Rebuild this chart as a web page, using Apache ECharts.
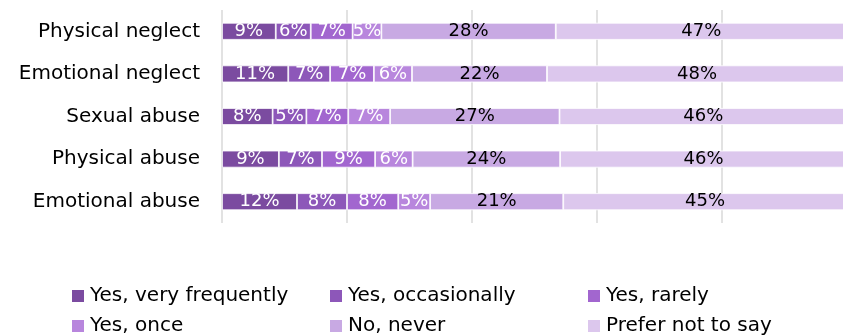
<!DOCTYPE html>
<html>
<head>
<meta charset="utf-8">
<script src="https://cdn.jsdelivr.net/npm/echarts@6/dist/echarts.min.js"></script>
<style>
  html, body { margin: 0; padding: 0; background: #fff; }
  #main { width: 843px; height: 336px; }
</style>
</head>
<body>
<div id="main"></div>
<script>
// categories top to bottom
var categories = ['Physical neglect', 'Emotional neglect', 'Sexual abuse', 'Physical abuse', 'Emotional abuse'];

// share of answers (%) per category
var veryFrequently = [8.6, 10.6, 8.1, 9.1, 12.0];
var occasionally   = [5.6, 6.7, 5.4, 6.9, 8.0];
var rarely         = [6.7, 7.0, 6.7, 8.5, 8.2];
var once           = [4.6, 6.1, 6.7, 6.0, 5.1];
var never          = [27.9, 21.6, 27.1, 23.6, 21.3];
var preferNot      = [46.6, 48.0, 46.0, 45.9, 45.4];

var seriesNames = ['Yes, very frequently', 'Yes, occasionally', 'Yes, rarely', 'Yes, once', 'No, never', 'Prefer not to say'];
var seriesData = [veryFrequently, occasionally, rarely, once, never, preferNot];
var colors = ['#7b4ba0', '#8d57b9', '#a266cf', '#b886dd', '#c8a9e3', '#dcc7ed'];
var labelColors = ['#fff', '#fff', '#fff', '#fff', '#000', '#000'];

var myChart = echarts.init(document.getElementById('main'));

var series = seriesNames.map(function (name, i) {
    return {
        name: name,
        type: 'bar',
        stack: 'total',
        barWidth: 17,
        itemStyle: { color: colors[i], borderColor: '#fff', borderWidth: 0.8 },
        label: {
            show: true,
            position: 'inside',
            color: labelColors[i],
            fontFamily: 'DejaVu Sans',
            fontSize: 18,
            formatter: function (p) { return Math.round(p.value) + '%'; }
        },
        data: seriesData[i]
    };
});

var option = {
    animation: false,
    color: colors,
    grid: {
        left: 222,
        width: 625,
        top: 10,
        height: 213,
        outerBoundsMode: 'none'
    },
    legend: {
        left: 70,
        top: 286,
        width: 780,
        padding: 0,
        itemWidth: 14,
        itemHeight: 14,
        itemGap: 10,
        icon: 'rect',
        textStyle: {
            fontFamily: 'DejaVu Sans',
            fontSize: 20,
            color: '#000',
            width: 228,
            lineHeight: 16
        },
        data: seriesNames
    },
    xAxis: {
        type: 'value',
        min: 0,
        max: 100,
        interval: 20,
        axisLabel: { show: false },
        axisLine: { show: false },
        axisTick: { show: false },
        splitLine: { lineStyle: { color: '#d9d9d9', width: 1.5 } }
    },
    yAxis: {
        type: 'category',
        inverse: true,
        data: categories,
        axisLine: { show: false },
        axisTick: { show: false },
        axisLabel: {
            fontFamily: 'DejaVu Sans',
            fontSize: 20,
            color: '#000',
            margin: 22
        }
    },
    series: series
};

myChart.setOption(option);
</script>
</body>
</html>
